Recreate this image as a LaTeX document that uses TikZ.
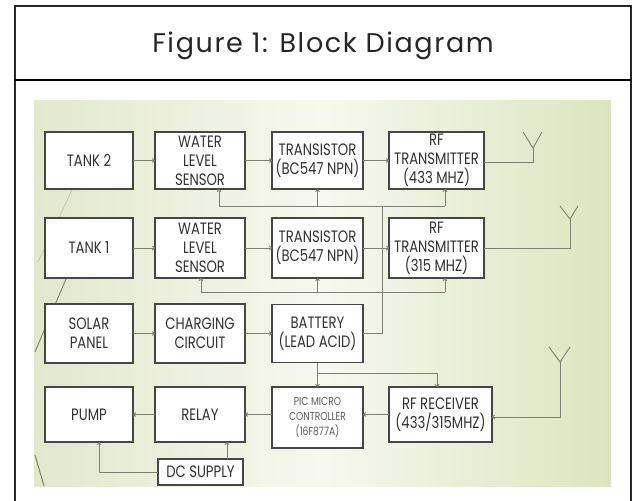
\documentclass[tikz,border=0pt]{standalone}
\usepackage{fontspec}
\usetikzlibrary{arrows.meta}
\newfontfamily\boxfont[FakeStretch=0.8]{Poppins}
\newfontfamily\titlefont[LetterSpace=6]{Poppins}
\definecolor{boxline}{RGB}{70,70,70}
\definecolor{wirec}{RGB}{125,128,115}
\definecolor{txt}{RGB}{50,50,50}
\definecolor{bgl}{RGB}{226,232,204}
\definecolor{bgm}{RGB}{246,248,238}
\definecolor{bgr}{RGB}{220,229,190}
\definecolor{deco}{RGB}{120,135,95}
\begin{document}
\begin{tikzpicture}[x=1pt,y=-1pt,
  blk/.style={draw=boxline,line width=1.3pt,fill=white,inner sep=0pt,outer sep=0pt,
    align=center,text=txt,font=\boxfont\fontsize{16.5}{19}\selectfont},
  smalltxt/.style={font=\boxfont\fontsize{11.5}{15}\selectfont,text=txt!80},
  wire/.style={draw=wirec,line width=0.9pt},
  arr/.style={wire,-{To[length=3pt,width=4.5pt]}},
  ant/.style={draw=wirec,line width=0.9pt}]
\useasboundingbox (0,0) rectangle (633,501);
% background
\shade[left color=bgl,right color=bgr,middle color=bgm] (34,100) rectangle (611,486);
% frame
\draw[line width=1.4pt,black!85] (15,515) -- (15,6) -- (631,6) -- (631,515);
\draw[line width=2pt,black] (15,80) -- (631,80);
\node[font=\titlefont\fontsize{27}{30}\selectfont,text=black!85] (title) at (323,46) {Figure 1: Block Diagram};
% decorative lines
\draw[deco!45,line width=0.8pt] (72,190) -- (38,262);
\draw[deco,line width=0.9pt] (66,279) -- (35,352);
\draw[deco,line width=1pt] (35,455) -- (44,486);
% row 1
\node[blk,minimum width=88pt,minimum height=57pt] (tank2) at (89,160.5) {TANK 2};
\node[blk,minimum width=90pt,minimum height=57pt] (wls2) at (200,160.5) {WATER\\LEVEL\\SENSOR};
\node[blk,minimum width=91pt,minimum height=57pt] (tr2) at (317.5,160.5) {TRANSISTOR\\(BC547 NPN)};
\node[blk,minimum width=95pt,minimum height=57pt] (rf433) at (436.5,160.5) {RF\\TRANSMITTER\\(433 MHZ)};
% row 2
\node[blk,minimum width=88pt,minimum height=60pt] (tank1) at (89,248) {TANK 1};
\node[blk,minimum width=90pt,minimum height=60pt] (wls1) at (200,248) {WATER\\LEVEL\\SENSOR};
\node[blk,minimum width=91pt,minimum height=60pt] (tr1) at (317.5,248) {TRANSISTOR\\(BC547 NPN)};
\node[blk,minimum width=95pt,minimum height=60pt] (rf315) at (436.5,248) {RF\\TRANSMITTER\\(315 MHZ)};
% row 3
\node[blk,minimum width=88pt,minimum height=59pt] (solar) at (89,333.5) {SOLAR\\PANEL};
\node[blk,minimum width=90pt,minimum height=59pt] (charge) at (200,333.5) {CHARGING\\CIRCUIT};
\node[blk,minimum width=91pt,minimum height=58pt] (batt) at (317.5,333.5) {BATTERY\\(LEAD ACID)};
% row 4
\node[blk,minimum width=88pt,minimum height=55pt] (pump) at (89,414.5) {PUMP};
\node[blk,minimum width=90pt,minimum height=55pt] (relay) at (200,414.5) {RELAY};
\node[blk,smalltxt,minimum width=91pt,minimum height=61pt] (pic) at (317.5,417.5) {PIC MICRO\\CONTROLLER\\(16F877A)};
\node[blk,minimum width=103pt,minimum height=55pt] (rfrx) at (440.5,414.5) {RF RECEIVER\\(433/315MHZ)};
\node[blk,minimum width=85pt,minimum height=26pt] (dc) at (200.5,472) {DC SUPPLY};
% horizontal chains
\draw[arr] (tank2) -- (wls2);
\draw[arr] (wls2) -- (tr2);
\draw[arr] (tr2) -- (rf433);
\draw[arr] (tank1) -- (wls1);
\draw[arr] (wls1) -- (tr1);
\draw[arr] (tr1) -- (rf315);
\draw[arr] (solar) -- (charge);
\draw[arr] (charge) -- (batt);
\draw[arr] (rfrx.west) -- (rfrx.west -| pic.east);
\draw[arr] (pic.west |- relay.east) -- (relay.east);
\draw[arr] (relay) -- (pump);
% antennas
\coordinate (a1) at (533,148);
\coordinate (a2) at (570,219);
\coordinate (a3) at (560,362);
\draw[wire] ([yshift=-2pt]rf433.east) -| (a1);
\draw[ant] (a1) -- ++(-10,-16) (a1) -- ++(9,-16);
\draw[wire] (rf315.east) -| (a2);
\draw[ant] (a2) -- ++(-10,-13) (a2) -- ++(8,-13);
\draw[ant] (a3) -- ++(-11,-15) (a3) -- ++(10,-15);
\draw[arr] (a3) |- ([yshift=-2.5pt]rfrx.east);
% power bus from battery
\coordinate (bt) at (382,206);
\coordinate (f1l) at (219,206);
\coordinate (f1r) at (445,206);
\coordinate (f2l) at (201,292);
\coordinate (f2r) at (445,292);
\draw[wire] (batt.east) -| (bt);
\draw[wire] (f1l) -- (f1r);
\draw[wire] (f2l) -- (f2r);
\draw[arr] (f1l) -- (f1l |- wls2.south);
\draw[arr] (tr2.south |- f1l) -- (tr2.south);
\draw[arr] (f1r) -- (f1r |- rf433.south);
\draw[arr] (f2l) -- (f2l |- wls1.south);
\draw[arr] (tr1.south |- f2l) -- (tr1.south);
\draw[arr] (f2r) -- (f2r |- rf315.south);
% battery to controller and receiver
\coordinate (br) at (317.5,373);
\draw[arr] (batt.south) -- (pic.north);
\draw[arr] (br) -| ([xshift=-3.5pt]rfrx.north);
% DC supply
\draw[arr] (dc.west) -| ([xshift=10pt]pump.south);
\draw[arr] ([xshift=26.5pt]dc.north) -- ([xshift=26.5pt]dc.north |- relay.south);
\end{tikzpicture}
\end{document}
